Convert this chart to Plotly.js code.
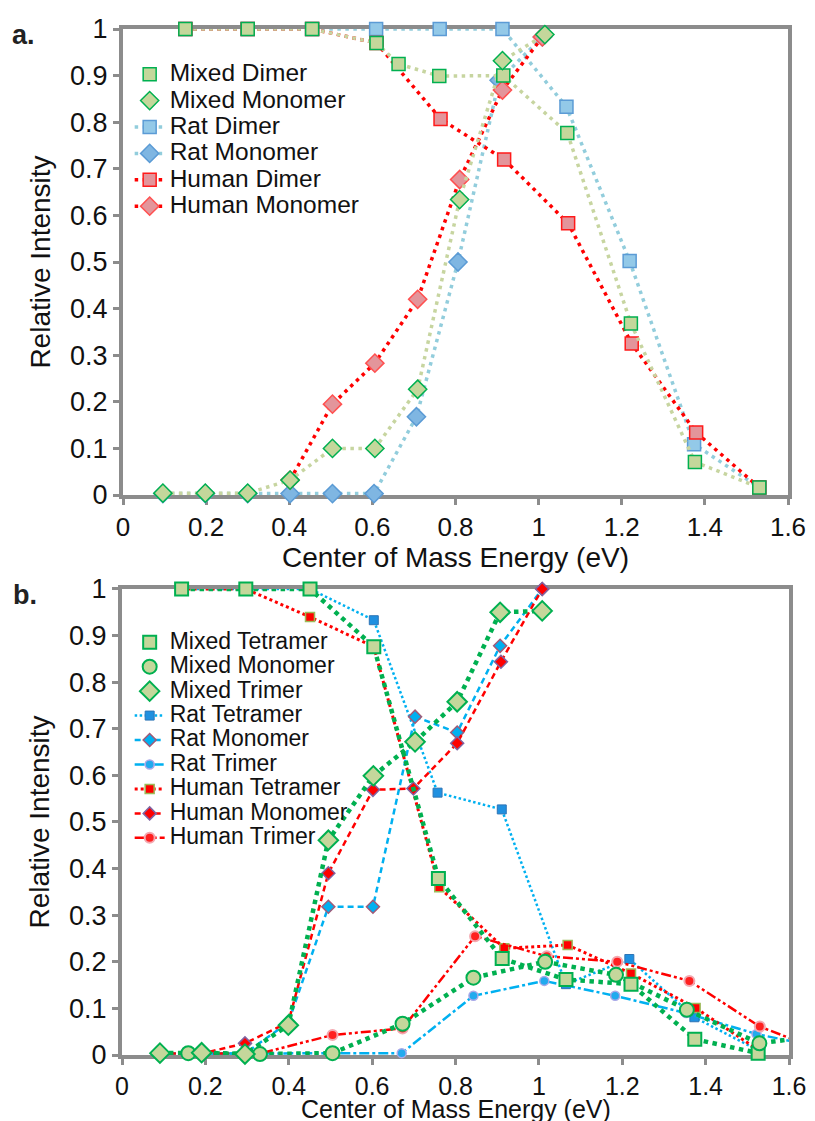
<!DOCTYPE html>
<html>
<head>
<meta charset="utf-8">
<script src="https://cdn.plot.ly/plotly-3.0.1.min.js"></script>
<style>html,body{margin:0;padding:0;background:#fff;}#chart{width:815px;height:1121px;}</style>
</head>
<body>
<div id="chart"></div>
<script>
// ---------- Panel a data ----------
const aMixedDimerX   = [0.15, 0.30, 0.455, 0.61, 0.663, 0.761, 0.915, 1.069, 1.222, 1.376, 1.531];
const aMixedDimerY   = [1, 1, 1, 0.97, 0.925, 0.899, 0.90, 0.777, 0.368, 0.071, 0.016];
const aMixedMonoX    = [0.096, 0.198, 0.300, 0.402, 0.504, 0.606, 0.709, 0.81, 0.913, 1.015];
const aMixedMonoY    = [0.004, 0.004, 0.004, 0.032, 0.10, 0.10, 0.227, 0.634, 0.932, 0.988];
const aRatDimerX     = [0.15, 0.30, 0.455, 0.609, 0.762, 0.913, 1.067, 1.219, 1.374, 1.531];
const aRatDimerY     = [1, 1, 1, 1, 1, 1, 0.833, 0.502, 0.109, 0.016];
const aRatMonoX      = [0.096, 0.198, 0.300, 0.402, 0.504, 0.604, 0.706, 0.806, 0.905, 1.009];
const aRatMonoY      = [0.003, 0.003, 0.003, 0.003, 0.003, 0.003, 0.168, 0.50, 0.89, 0.983];
const aHumanDimerX   = [0.15, 0.30, 0.455, 0.61, 0.764, 0.917, 1.071, 1.224, 1.379, 1.531];
const aHumanDimerY   = [1, 1, 1, 0.97, 0.807, 0.72, 0.583, 0.325, 0.134, 0.016];
const aHumanMonoX    = [0.402, 0.504, 0.606, 0.709, 0.81, 0.913, 1.009];
const aHumanMonoY    = [0.032, 0.195, 0.283, 0.42, 0.677, 0.869, 0.983];

// ---------- Panel b data ----------
const bMixedTetX  = [0.143, 0.297, 0.451, 0.604, 0.759, 0.912, 1.065, 1.221, 1.374, 1.526];
const bMixedTetY  = [1, 1, 1, 0.876, 0.379, 0.207, 0.162, 0.152, 0.034, 0.004];
const bMixedMonoX = [0.159, 0.331, 0.505, 0.673, 0.843, 1.015, 1.185, 1.355, 1.529, 1.70];
const bMixedMonoY = [0.004, 0.002, 0.004, 0.067, 0.166, 0.20, 0.172, 0.097, 0.025, 0.045];
const bMixedTriX  = [0.091, 0.191, 0.295, 0.399, 0.495, 0.603, 0.703, 0.804, 0.907, 1.008];
const bMixedTriY  = [0.004, 0.005, 0.002, 0.064, 0.461, 0.599, 0.672, 0.758, 0.95, 0.953];
const bRatTetX    = [0.143, 0.297, 0.451, 0.604, 0.757, 0.911, 1.065, 1.217, 1.373, 1.526];
const bRatTetY    = [1, 1, 1, 0.933, 0.563, 0.527, 0.152, 0.206, 0.081, 0.01];
const bRatMonoX   = [0.091, 0.191, 0.295, 0.399, 0.495, 0.602, 0.703, 0.804, 0.907, 1.008];
const bRatMonoY   = [0.003, 0.003, 0.003, 0.07, 0.318, 0.318, 0.726, 0.692, 0.878, 1.0];
const bRatTriX    = [0.159, 0.331, 0.505, 0.671, 0.843, 1.013, 1.183, 1.353, 1.522, 1.70];
const bRatTriY    = [0.003, 0.003, 0.003, 0.004, 0.127, 0.159, 0.127, 0.09, 0.045, 0.012];
const bHumTetX    = [0.143, 0.297, 0.451, 0.604, 0.761, 0.917, 1.069, 1.221, 1.376, 1.526];
const bHumTetY    = [1, 1, 0.94, 0.876, 0.36, 0.229, 0.236, 0.175, 0.101, 0.011];
const bHumMonoX   = [0.091, 0.191, 0.295, 0.399, 0.495, 0.602, 0.699, 0.804, 0.909, 1.008];
const bHumMonoY   = [0.003, 0.003, 0.025, 0.07, 0.39, 0.569, 0.572, 0.669, 0.844, 1.0];
const bHumTriX    = [0.159, 0.331, 0.505, 0.673, 0.847, 1.019, 1.188, 1.361, 1.53, 1.70];
const bHumTriY    = [0.003, 0.003, 0.043, 0.057, 0.255, 0.212, 0.20, 0.159, 0.061, 0.002];

const xTickVals = [0, 0.2, 0.4, 0.6, 0.8, 1, 1.2, 1.4, 1.6];
const yTickVals = [0, 0.1, 0.2, 0.3, 0.4, 0.5, 0.6, 0.7, 0.8, 0.9, 1];
const xTitle = 'Center of Mass Energy (eV)';
const yTitle = 'Relative Intensity';

const FONT = 'Liberation Sans, Arial, Helvetica, sans-serif';
const AXC = '#8c8c8c';

function nm(t, s) { return '<span style="font-size:' + s + 'px">' + t + '</span>'; }

function line(x, y, xa, ya, color, width, dash) {
  return {x: x, y: y, xaxis: xa, yaxis: ya, type: 'scatter', mode: 'lines',
    showlegend: false, hoverinfo: 'skip', cliponaxis: false,
    line: {color: color, width: width, dash: dash}};
}
function mk(x, y, xa, ya, name, legend, rank, sym, size, fill, border, bw, lineOpt) {
  const t = {x: x, y: y, xaxis: xa, yaxis: ya, type: 'scatter', name: name,
    legend: legend, legendrank: rank, cliponaxis: false,
    mode: lineOpt ? 'lines+markers' : 'markers',
    marker: {symbol: sym, size: size, color: fill, line: {color: border, width: bw}}};
  if (lineOpt) t.line = lineOpt;
  return t;
}

const LA = 24.5, LB = 23;
const dotA = '3.5px,4.5px';
const traces = [
  // Panel a (rat, human underneath, mixed on top)
  mk(aRatDimerX, aRatDimerY, 'x', 'y', nm('Rat Dimer', LA), 'legend', 3, 'square', 13, '#93c9e8', '#5b9bd5', 1.5,
     {color: '#92cddc', width: 3.5, dash: dotA}),
  mk(aRatMonoX, aRatMonoY, 'x', 'y', nm('Rat Monomer', LA), 'legend', 4, 'diamond', 14, '#7fb6e2', '#5b9bd5', 1.5,
     {color: '#92cddc', width: 3.5, dash: dotA}),
  mk(aHumanDimerX, aHumanDimerY, 'x', 'y', nm('Human Dimer', LA), 'legend', 5, 'square', 13, '#e3959b', '#ff1a1a', 1.5,
     {color: '#ff0000', width: 3.5, dash: dotA}),
  mk(aHumanMonoX, aHumanMonoY, 'x', 'y', nm('Human Monomer', LA), 'legend', 6, 'diamond', 14, '#e3959b', '#ff5050', 1.5,
     {color: '#ff0000', width: 3.5, dash: dotA}),
  line(aMixedDimerX, aMixedDimerY, 'x', 'y', '#c7d5a0', 3.5, dotA),
  line(aMixedMonoX, aMixedMonoY, 'x', 'y', '#c7d5a0', 3.5, dotA),
  mk(aMixedDimerX, aMixedDimerY, 'x', 'y', nm('Mixed Dimer', LA), 'legend', 1, 'square', 13, '#c4d79b', '#00b050', 1.5, null),
  mk(aMixedMonoX, aMixedMonoY, 'x', 'y', nm('Mixed Monomer', LA), 'legend', 2, 'diamond', 14, '#c4d79b', '#00b050', 1.5, null),

  // Panel b
  mk(bRatTetX, bRatTetY, 'x2', 'y2', nm('Rat Tetramer', LB), 'legend2', 4, 'square', 9, '#2090e0', '#2e75b6', 1,
     {color: '#00b0f0', width: 2.5, dash: '2.5px,2.5px'}),
  mk(bRatMonoX, bRatMonoY, 'x2', 'y2', nm('Rat Monomer', LB), 'legend2', 5, 'diamond', 10, '#00b0f0', '#a05a78', 1.5,
     {color: '#00b0f0', width: 2.5, dash: '6px,4px'}),
  mk(bRatTriX, bRatTriY, 'x2', 'y2', nm('Rat Trimer', LB), 'legend2', 6, 'circle', 9, '#22aaee', '#a8a8e8', 1.5,
     {color: '#00b0f0', width: 2.5, dash: '10px,3px,3px,3px'}),
  mk(bHumTetX, bHumTetY, 'x2', 'y2', nm('Human Tetramer', LB), 'legend2', 7, 'square', 9, '#ff0000', '#9bbb59', 1.5,
     {color: '#ff0000', width: 3, dash: '3px,3px'}),
  mk(bHumMonoX, bHumMonoY, 'x2', 'y2', nm('Human Monomer', LB), 'legend2', 8, 'diamond', 10, '#ff0000', '#8064a2', 1.5,
     {color: '#ff0000', width: 2.5, dash: '6px,4px'}),
  mk(bHumTriX, bHumTriY, 'x2', 'y2', nm('Human Trimer', LB), 'legend2', 9, 'circle', 10, '#ff2020', '#f4a8b0', 2,
     {color: '#ff0000', width: 2.5, dash: '10px,3px,3px,3px,3px,3px'}),
  line(bMixedTetX, bMixedTetY, 'x2', 'y2', '#00b050', 4.5, '4.5px,4.5px'),
  line(bMixedMonoX, bMixedMonoY, 'x2', 'y2', '#00b050', 4.5, '4.5px,4.5px'),
  line(bMixedTriX, bMixedTriY, 'x2', 'y2', '#00b050', 4.5, '4.5px,4.5px'),
  mk(bMixedTetX, bMixedTetY, 'x2', 'y2', nm('Mixed Tetramer', LB), 'legend2', 1, 'square', 13, '#c4d79b', '#00b050', 2, null),
  mk(bMixedMonoX, bMixedMonoY, 'x2', 'y2', nm('Mixed Monomer', LB), 'legend2', 2, 'circle', 14, '#c4d79b', '#00b050', 2, null),
  mk(bMixedTriX, bMixedTriY, 'x2', 'y2', nm('Mixed Trimer', LB), 'legend2', 3, 'diamond', 15, '#c4d79b', '#00b050', 2, null)
];

function xAxis(anchor, domain, withTitle, tickSize) {
  const ax = {anchor: anchor, domain: domain, range: [0, 1.6], tickvals: xTickVals,
    showline: true, linecolor: AXC, linewidth: 4, mirror: true,
    ticks: 'outside', ticklen: 6, tickwidth: 3, tickcolor: AXC,
    showgrid: false, zeroline: false, layer: 'below traces', fixedrange: true,
    tickfont: {family: FONT, size: tickSize, color: '#111'}};
  if (withTitle) ax.title = {text: xTitle, font: {family: FONT, size: 28, color: '#111'}, standoff: 4};
  return ax;
}
function yAxis(anchor, domain) {
  return {anchor: anchor, domain: domain, range: [0, 1], tickvals: yTickVals,
    showline: true, linecolor: AXC, linewidth: 4, mirror: true,
    ticks: 'outside', ticklen: 6, tickwidth: 3, tickcolor: AXC,
    showgrid: false, zeroline: false, layer: 'below traces', fixedrange: true,
    tickfont: {family: FONT, size: 27, color: '#111'},
    title: {text: yTitle, font: {family: FONT, size: 28, color: '#111'}, standoff: 12}};
}

const layout = {
  width: 815, height: 1121,
  margin: {l: 122, r: 26, t: 29, b: 66},
  paper_bgcolor: '#fff', plot_bgcolor: '#fff',
  font: {family: FONT, color: '#111'},
  showlegend: true,
  xaxis: xAxis('y', [0.0015, 0.9985], true, 26),
  yaxis: yAxis('x', [0.5458, 1]),
  xaxis2: xAxis('y2', [0, 1], false, 25),
  yaxis2: yAxis('x2', [0, 0.4542]),
  legend: {x: 0.0115, y: 0.9737, xanchor: 'left', yanchor: 'top', bgcolor: 'rgba(0,0,0,0)',
    font: {family: FONT, size: 18, color: '#111'}, traceorder: 'normal', itemclick: false},
  legend2: {x: 0.0115, y: 0.4191, xanchor: 'left', yanchor: 'top', bgcolor: 'rgba(0,0,0,0)',
    font: {family: FONT, size: 16.5, color: '#111'}, traceorder: 'normal', itemclick: false},
  annotations: [
    {text: '<b>a.</b>', xref: 'paper', yref: 'paper', x: -0.168, y: 0.994, xanchor: 'left', yanchor: 'middle',
     showarrow: false, font: {family: FONT, size: 27, color: '#222'}},
    {text: '<b>b.</b>', xref: 'paper', yref: 'paper', x: -0.166, y: 0.4483, xanchor: 'left', yanchor: 'middle',
     showarrow: false, font: {family: FONT, size: 27, color: '#222'}},
    {text: xTitle, xref: 'paper', yref: 'paper', x: 0.5, y: -0.0525, xanchor: 'center', yanchor: 'middle',
     showarrow: false, font: {family: FONT, size: 25, color: '#111'}}
  ]
};

Plotly.newPlot('chart', traces, layout, {staticPlot: true, displayModeBar: false});
</script>
</body>
</html>
